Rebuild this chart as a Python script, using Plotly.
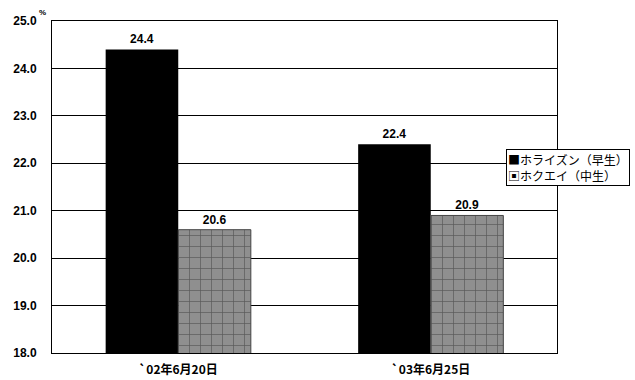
import plotly.graph_objects as go

categories = ["`02年6月20日", "`03年6月25日"]
series_names = ["ホライズン（早生）", "ホクエイ（中生）"]
horizon = [24.4, 22.4]
hokuei = [20.6, 20.9]
y_ticks = [18.0, 19.0, 20.0, 21.0, 22.0, 23.0, 24.0, 25.0]

font_jp = "Noto Sans CJK JP, Liberation Sans, Arial"
font_num = "Liberation Sans, Arial"

fig = go.Figure()
fig.add_trace(go.Bar(
    x=categories, y=horizon, name=series_names[0],
    marker=dict(color="black", line=dict(width=0)),
    text=[f"<b>{v:.1f}</b>" for v in horizon], textposition="outside",
    textfont=dict(family=font_num, size=12, color="black"),
    cliponaxis=False,
))
fig.add_trace(go.Bar(
    x=categories, y=hokuei, name=series_names[1],
    marker=dict(color="#8a8a8a", line=dict(width=1, color="#444"),
                pattern=dict(shape="+", fgcolor="#222", bgcolor="#8f8f8f", size=11, solidity=0.12)),
    text=[f"<b>{v:.1f}</b>" for v in hokuei], textposition="outside",
    textfont=dict(family=font_num, size=12, color="black"),
    cliponaxis=False,
))

legend_text = f"■{series_names[0]}<br>▣{series_names[1]}"

plot_l, plot_r, plot_t, plot_b = 52, 78, 21, 27
plot_w = 635 - plot_l - plot_r
plot_h = 380 - plot_t - plot_b

fig.update_layout(
    width=635, height=380,
    margin=dict(l=plot_l, r=plot_r, t=plot_t, b=plot_b, autoexpand=False),
    paper_bgcolor="white", plot_bgcolor="white",
    barmode="group", bargap=0.425, bargroupgap=0,
    font=dict(family=font_jp, color="black"),
    showlegend=False,
    xaxis=dict(showline=True, linecolor="black", linewidth=1, mirror=True,
               tickvals=categories, ticktext=[f"<b>{c}</b>" for c in categories],
               tickfont=dict(family=font_jp, size=12, color="black"),
               ticks="outside", ticklen=6, tickcolor="rgba(0,0,0,0)"),
    yaxis=dict(range=[18, 25], tickvals=y_ticks, ticktext=[f"<b>{v:.1f}</b>" for v in y_ticks],
               showgrid=True, gridcolor="black", gridwidth=1,
               showline=True, linecolor="black", linewidth=1, mirror=True,
               tickfont=dict(family=font_num, size=12, color="black"),
               ticks="outside", ticklen=12, tickcolor="rgba(0,0,0,0)", zeroline=False),
    annotations=[
        dict(text="<b>%</b>", x=0, y=1, xref="paper", yref="paper", xanchor="right",
             yanchor="bottom", xshift=-4, yshift=2, showarrow=False,
             font=dict(family=font_num, size=8, color="black")),
        dict(text=legend_text, x=(506 - plot_l) / plot_w, y=1 - (149 - plot_t) / plot_h,
             xref="paper", yref="paper", showarrow=False,
             align="left", xanchor="left", yanchor="top",
             bordercolor="black", borderwidth=1, bgcolor="white", borderpad=1,
             font=dict(family=font_jp, size=12, color="black")),
    ],
)

fig.write_html("out.html")
